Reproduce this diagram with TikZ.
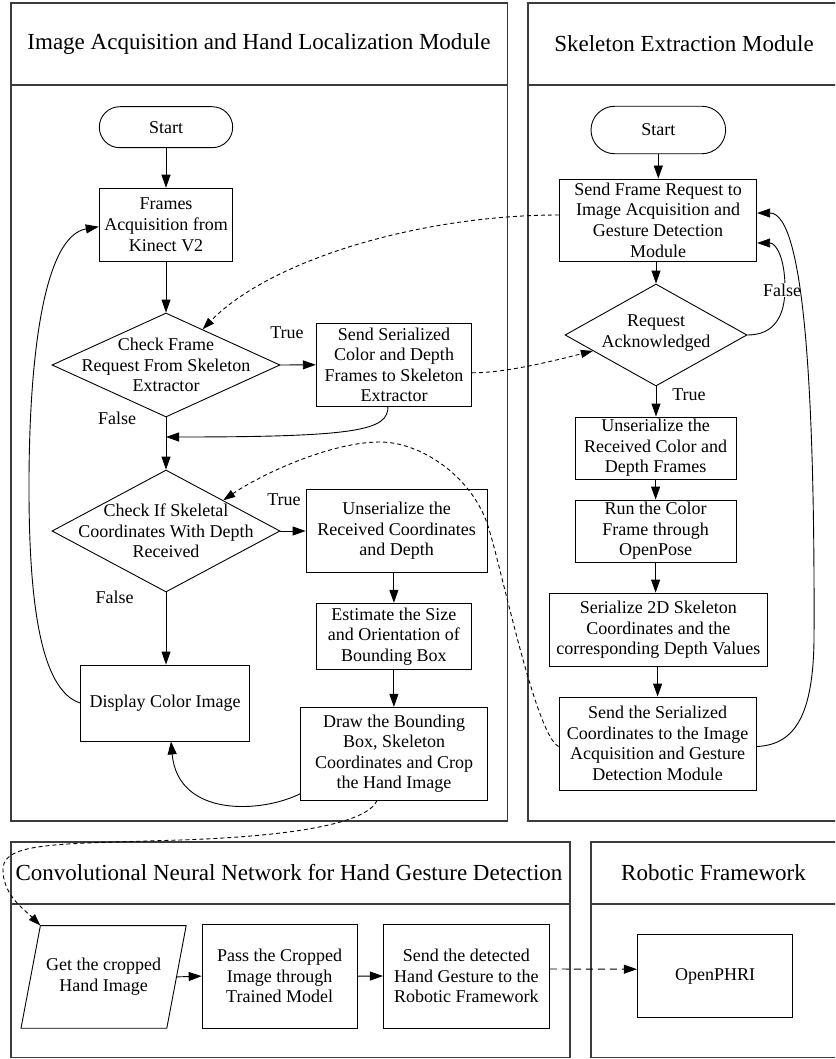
\documentclass[tikz,border=0pt]{standalone}
\usepackage{fontspec}
\setmainfont{Liberation Serif}
\usetikzlibrary{arrows.meta,shapes.geometric,shapes.misc,calc}
\newcommand\mynodefont{\fontsize{18}{20.6}\selectfont}
\newcommand\mytitlefont{\fontsize{23}{27}\selectfont}
\definecolor{panelgray}{HTML}{3C3C3C}
\begin{document}
\begin{tikzpicture}[x=1pt,y=-1pt,
  panel/.style={draw=panelgray, line width=1.6pt},
  title/.style={font=\mytitlefont, inner sep=0pt},
  box/.style={draw, line width=0.9pt, inner sep=0pt, align=center, font=\mynodefont},
  startn/.style={draw, rounded rectangle, line width=0.9pt, inner sep=0pt, font=\mynodefont},
  dia/.style={draw, diamond, line width=0.9pt, inner sep=0pt},
  txt/.style={align=center, font=\mynodefont, inner sep=0pt},
  lbl/.style={font=\mynodefont, inner sep=0pt},
  arr/.style={-{Triangle[length=13pt,width=9pt]}, line width=0.9pt},
  darr/.style={-{Triangle[length=12pt,width=8pt]}, line width=0.9pt, dash pattern=on 4pt off 3pt},
  darrb/.style={-{Triangle[length=13pt,width=9pt]}, line width=0.9pt, dash pattern=on 7pt off 5pt}
]
\useasboundingbox (0,0) rectangle (835,1059);
\clip (0,0) rectangle (835,1059);

% panels
\draw[panel] (10.7,3.3) rectangle (507.5,820.7);
\draw[panel] (10.7,85) -- (507.5,85);
\draw[panel] (528,3.3) rectangle (838,820.7);
\draw[panel] (528,85) -- (838,85);
\draw[panel] (10.7,841.7) rectangle (570,1057.5);
\draw[panel] (10.7,904) -- (570,904);
\draw[panel] (590.7,841.7) rectangle (838,1057.5);
\draw[panel] (590.7,904) -- (838,904);

\node[title] (t1) at (259,44) {Image Acquisition and Hand Localization Module};
\node[title] (t2) at (684,44) {Skeleton Extraction Module};
\node[title] (t3) at (289,873) {Convolutional Neural Network for Hand Gesture Detection};
\node[title] (t4) at (713.5,873) {Robotic Framework};

% left module
\node[startn, minimum width=133.4pt, minimum height=41pt] (s1) at (166,127.2) {Start};
\node[box, minimum width=133.6pt, minimum height=73pt] (fr) at (166,224.7) {Frames\\Acquisition from\\Kinect V2};
\node[dia, minimum width=228pt, minimum height=104pt] (d1) at (166,365) {};
\node[txt] (d1t) at (d1) {Check Frame\\Request From Skeleton\\Extractor};
\node[box, minimum width=155.5pt, minimum height=82.5pt] (ss) at (394,364.8) {Send Serialized\\Color and Depth\\Frames to Skeleton\\Extractor};
\node[dia, minimum width=228pt, minimum height=122pt] (d2) at (166,531) {};
\node[txt] (d2t) at (d2) {Check If Skeletal\\Coordinates With Depth\\Received};
\node[box, minimum width=181.3pt, minimum height=83.4pt] (ul) at (396.7,531) {Unserialize the\\Received Coordinates\\and Depth};
\node[box, minimum width=155.7pt, minimum height=66pt] (es) at (393.9,636.3) {Estimate the Size\\and Orientation of\\Bounding Box};
\node[box, minimum width=186.6pt, minimum height=92.7pt] (dr) at (394,753.7) {Draw the Bounding\\Box, Skeleton\\Coordinates and Crop\\the Hand Image};
\node[box, minimum width=168.8pt, minimum height=76pt] (dc) at (165,703) {Display Color Image};

% right module
\node[startn, minimum width=134.6pt, minimum height=47.5pt] (s2) at (658.3,130) {Start};
\node[box, minimum width=197.4pt, minimum height=82pt] (rq) at (658,220) {Send Frame Request to\\Image Acquisition and\\Gesture Detection\\Module};
\node[dia, minimum width=182pt, minimum height=102pt] (ak) at (656,335) {};
\node[txt] (akt) at (656,333.3) {Request\\Acknowledged};
\node[box, minimum width=161pt, minimum height=62pt] (ur) at (655.6,448) {Unserialize the\\Received Color and\\Depth Frames};
\node[box, minimum width=161pt, minimum height=62pt] (rc) at (655.6,531) {Run the Color\\Frame through\\OpenPose};
\node[box, minimum width=217.3pt, minimum height=73.3pt] (sz) at (658.3,629.7) {Serialize 2D Skeleton\\Coordinates and the\\corresponding Depth Values};
\node[box, minimum width=197pt, minimum height=93pt] (sc) at (657.6,743.5) {Send the Serialized\\Coordinates to the Image\\Acquisition and Gesture\\Detection Module};

% bottom modules
\node[txt, minimum width=145.4pt, minimum height=102.3pt] (gh) at (103.6,976.9) {Get the cropped\\Hand Image};
\draw[line width=0.9pt] ($(gh.north west)+(9.7,0)$) coordinate (ghtl) -- ($(gh.north east)+(9.7,0)$) -- ($(gh.south east)+(-9.7,0)$) -- ($(gh.south west)+(-9.7,0)$) -- cycle;
\node[box, minimum width=155pt, minimum height=104pt] (pc) at (279.6,976.1) {Pass the Cropped\\Image through\\Trained Model};
\node[box, minimum width=166pt, minimum height=104pt] (sd) at (466.4,976) {Send the detected\\Hand Gesture to the\\Robotic Framework};
\node[box, minimum width=155.3pt, minimum height=83pt] (op) at (715,976.2) {OpenPHRI};

% left connectors
\draw[arr] (s1.south) -- (fr.north);
\draw[arr] (fr.south) -- (d1.north);
\draw[arr] (d1.east) -- (ss.west);
\draw[arr] (d1.south) -- (d2.north);
\coordinate (m1) at (166,437);
\draw[arr] ($(ss.south)+(-6,0)$) .. controls (388,430) and (360,437) .. (m1);
\draw[arr] (d2.east) -- (ul.west);
\draw[arr] (d2.south) -- (d2.south |- dc.north);
\draw[arr] (es.north |- ul.south) -- (es.north);
\draw[arr] (es.south) -- (es.south |- dr.north);
\draw[arr] ($(dr.west)+(0,40)$) .. controls (262,813) and (178,818) .. ($(dc.south)+(6,0)$);
\draw[arr] (dc.west) .. controls (40,690) and (28.5,600) .. (29,480) .. controls (29.5,350) and (45,236) .. ($(fr.west)+(0,2)$);

\node[lbl] at (287,333) {True};
\node[lbl] at (117,418) {False};
\node[lbl] at (284,500) {True};
\node[lbl] at (114.5,597) {False};

% right connectors
\draw[arr] (s2.south) -- (s2.south |- rq.north);
\draw[arr] (ak.north |- rq.south) -- (ak.north);
\draw[arr] (ak.south) -- (ak.south |- ur.north);
\draw[arr] (ur.south) -- (rc.north);
\draw[arr] (rc.south) -- (rc.south |- sz.north);
\draw[arr] (sc.north |- sz.south) -- (sc.north);
\draw[arr] (ak.east) .. controls (775,335) and (785,315) .. (785,288) .. controls (785,258) and (776,243) .. ($(rq.east)+(0,23)$);
\node[lbl, fill=white, inner sep=1pt] at (782,290) {False};
\node[lbl] at (689,395) {True};
\draw[arr] ($(sc.east)+(0,3)$) .. controls (795,745) and (813,715) .. (814,640) .. controls (815,400) and (805,213) .. ($(rq.east)+(0,-7)$);

% dashed connectors
\draw[darr] ($(rq.west)+(0,-5)$) .. controls (420,215) and (270,260) .. ($(d1.north)!0.32!(d1.east)$);
\draw[darr] ($(ss.east)+(0,8)$) .. controls (505,373) and (553,361) .. ($(ak.west)!0.31!(ak.south)$);
\draw[darr] ($(sc.west)+(0,3)$) .. controls (535,735) and (500,560) .. (487,523) .. controls (470,475) and (420,442) .. (380,442) .. controls (330,442) and (260,475) .. (d2.north east);
\draw[darr] ($(dr.south)+(-17,0)$) .. controls (368,822) and (300,836) .. (180,840) .. controls (60,844) and (5,842) .. (3,868) .. controls (2,895) and (25,910) .. (ghtl);

% bottom connectors
\draw[arr] (gh.east) -- (pc.west);
\draw[arr] (pc.east) -- (sd.west);
\draw[darrb] ($(sd.east)+(0,-7)$) -- ($(op.west)+(0,-7)$);
\end{tikzpicture}
\end{document}
